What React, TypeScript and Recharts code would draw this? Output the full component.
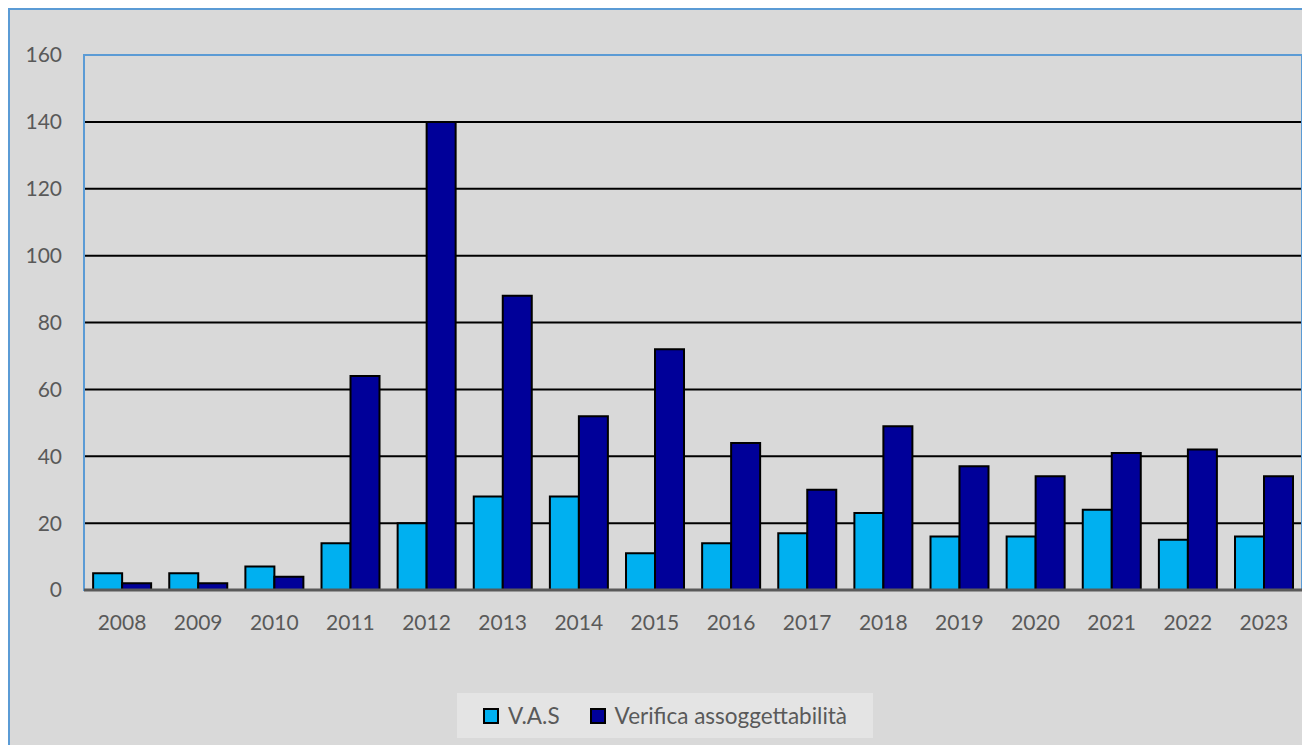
import { Bar, BarChart, CartesianGrid, Legend, ReferenceArea, XAxis, YAxis } from 'recharts';

const years = ['2008', '2009', '2010', '2011', '2012', '2013', '2014', '2015', '2016', '2017', '2018', '2019', '2020', '2021', '2022', '2023'];
const vas = [5, 5, 7, 14, 20, 28, 28, 11, 14, 17, 23, 16, 16, 24, 15, 16];
const verifica = [2, 2, 4, 64, 140, 88, 52, 72, 44, 30, 49, 37, 34, 41, 42, 34];
const yTicks = [0, 20, 40, 60, 80, 100, 120, 140, 160];

const data = years.map((year, i) => ({ year, vas: vas[i], verifica: verifica[i] }));

const font = 'Lato, "Open Sans", sans-serif';

// legend drawn as the grey box seen in the picture
const renderLegend = (props: any) => {
  const items = props.payload || [];
  return (
    <div
      style={{
        background: '#e4e4e4',
        height: 45,
        width: 416,
        display: 'flex',
        alignItems: 'center',
        justifyContent: 'center',
        gap: 30,
        fontFamily: font,
        fontSize: 22.5,
        color: '#595959',
      }}
    >
      {items.map((it: any) => (
        <span key={it.value} style={{ display: 'flex', alignItems: 'center' }}>
          <span style={{ width: 12, height: 12, background: it.color, border: '2px solid #000', marginRight: 9 }} />
          {it.value}
        </span>
      ))}
    </div>
  );
};

export default function App() {
  return (
    <div
      style={{
        marginTop: 0,
        width: 1320,
        height: 760,
        background: '#d9d9d9',
        borderTop: '2px solid #5b9bd5',
        borderLeft: '2px solid #5b9bd5',
        overflow: 'hidden',
      }}
    >
      <BarChart
        width={1300}
        height={735}
        data={data}
        margin={{ top: 45, right: 8, left: 0, bottom: 80 }}
        barGap={0}
        barCategoryGap="12%"
      >
        <CartesianGrid vertical={false} stroke="#000" strokeWidth={2} />
        <XAxis
          dataKey="year"
          axisLine={{ stroke: '#595959', strokeWidth: 3 }}
          tickLine={false}
          tickMargin={19}
          tick={{ fill: '#595959', fontSize: 21, fontFamily: font }}
        />
        <YAxis
          width={74}
          domain={[0, 160]}
          ticks={yTicks}
          axisLine={false}
          tickLine={false}
          tickSize={0}
          tickMargin={22}
          tick={{ fill: '#595959', fontSize: 21, fontFamily: font }}
        />
        <Bar dataKey="vas" name="V.A.S" fill="#00b0f0" stroke="#000" strokeWidth={2} isAnimationActive={false} />
        <Bar dataKey="verifica" name="Verifica assoggettabilità" fill="#000099" stroke="#000" strokeWidth={2} isAnimationActive={false} />
        <ReferenceArea y1={0} y2={160} fill="none" stroke="#5b9bd5" strokeWidth={2} ifOverflow="visible" />
        <Legend
          content={renderLegend}
          wrapperStyle={{ left: 447, top: 683, width: 416 }}
        />
      </BarChart>
    </div>
  );
}
